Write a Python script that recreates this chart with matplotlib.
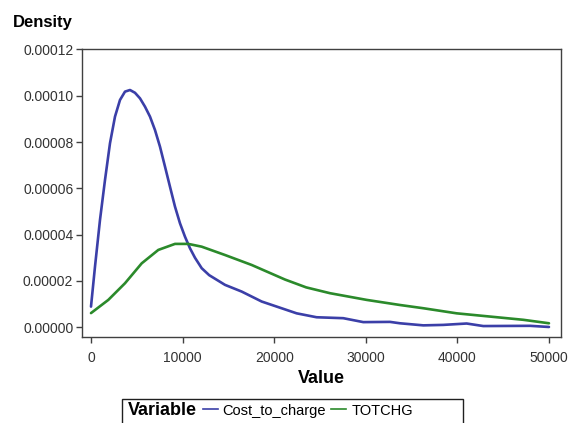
import numpy as np
import matplotlib
matplotlib.use('Agg')
import matplotlib.pyplot as plt
from matplotlib.lines import Line2D
from matplotlib.patches import Rectangle

plt.rcParams['font.family'] = ['Liberation Sans', 'DejaVu Sans']

## data
cost_x = [0, 437, 983, 1528, 2074, 2620, 3166, 3712, 4258, 4803, 5349, 5895,
          6441, 6987, 7533, 8079, 8624, 9170, 9716, 10262, 10808, 11354, 12085,
          12900, 14629, 16451, 18634, 21179, 22450, 24630, 27540, 29730, 32640,
          33730, 36280, 38460, 41010, 42830, 47930, 50000]
cost_y = [0.0000089, 0.0000262, 0.0000464, 0.0000636, 0.0000795, 0.0000910,
          0.0000982, 0.0001018, 0.0001025, 0.0001013, 0.0000989, 0.0000953,
          0.0000910, 0.0000852, 0.0000780, 0.0000694, 0.0000607, 0.0000521,
          0.0000449, 0.0000391, 0.0000341, 0.0000300, 0.0000255, 0.0000225,
          0.0000183, 0.0000154, 0.0000111, 0.0000077, 0.0000060, 0.0000043,
          0.0000039, 0.0000022, 0.0000023, 0.0000017, 0.0000008, 0.0000010,
          0.0000016, 0.0000005, 0.0000006, 0.0000001]

totchg_x = [0, 1890, 3712, 5535, 7350, 9170, 10620, 12085, 14629, 17540, 21179,
            23500, 26090, 30100, 33730, 36280, 39920, 43560, 47200, 50000]
totchg_y = [0.0000061, 0.0000118, 0.0000190, 0.0000276, 0.0000334, 0.0000360,
            0.0000360, 0.0000348, 0.0000312, 0.0000269, 0.0000206, 0.0000172,
            0.0000147, 0.0000118, 0.0000096, 0.0000082, 0.0000060, 0.0000046,
            0.0000032, 0.0000017]

labels = ['Cost_to_charge', 'TOTCHG']
colors = ['#3b3fa8', '#2b8a2b']
x_ticks = [0, 10000, 20000, 30000, 40000, 50000]
y_ticks = [0.0, 0.00002, 0.00004, 0.00006, 0.00008, 0.00010, 0.00012]

W, H = 569, 423
fig = plt.figure(figsize=(W / 100, H / 100), dpi=100)
ax = fig.add_axes([81.7 / W, 1 - 336.7 / H, (560.7 - 81.7) / W, (336.7 - 49.5) / H])

ax.plot(cost_x, cost_y, color=colors[0], lw=1.9, solid_capstyle='round',
        solid_joinstyle='round')
ax.plot(totchg_x, totchg_y, color=colors[1], lw=1.9, solid_capstyle='round',
        solid_joinstyle='round')

ax.set_xlim(-1015, 51280)
ax.set_ylim(-0.0000041, 0.00012)
ax.set_xticks(x_ticks)
ax.set_xticklabels([str(v) for v in x_ticks])
ax.set_yticks(y_ticks)
ax.set_yticklabels(['%.5f' % v for v in y_ticks])

for s in ax.spines.values():
    s.set_color('#404040')
    s.set_linewidth(1.0)
ax.tick_params(axis='both', direction='out', length=4.5, width=1.0,
               color='#404040', labelcolor='#333333', labelsize=10)
ax.tick_params(axis='x', pad=5.5)
ax.tick_params(axis='y', pad=1.5)

fig.text(13 / W, 1 - 27 / H, 'Density', fontsize=12, fontweight='bold',
         ha='left', va='baseline')
fig.text(321 / W, 1 - 378.5 / H, 'Value', fontsize=13, fontweight='bold',
         ha='center', va='center')

# legend strip below the plot
fig.patches.append(Rectangle((122 / W, -0.05), (463 - 122) / W, 0.05 + 1 - 399 / H,
                             transform=fig.transFigure, fill=False,
                             edgecolor='#202020', lw=1.0))
fig.text(128 / W, 1 - 410.5 / H, 'Variable', fontsize=13, fontweight='bold',
         ha='left', va='center')
handles = [Line2D([], [], color=c, lw=1.2) for c in colors]
fig.legend(handles, labels, ncol=2, frameon=False, fontsize=10.5,
           loc='center left', bbox_to_anchor=(203 / W, 1 - 410.5 / H),
           borderpad=0, borderaxespad=0, handlelength=1.03,
           handletextpad=0.32, columnspacing=0.36)

fig.savefig('out.png', dpi=100)
